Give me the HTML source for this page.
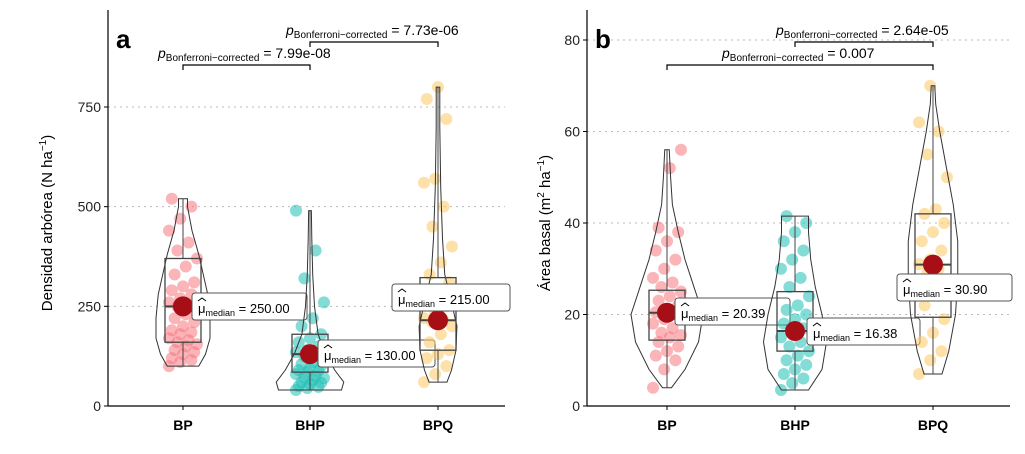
<!DOCTYPE html>
<html><head><meta charset="utf-8"><style>
body{margin:0;background:#fff;}
svg{display:block;font-family:"Liberation Sans",sans-serif;}
</style></head><body>
<svg id="c" width="1025" height="454" viewBox="0 0 1025 454"></svg>
<script>
const categories=["BP","BHP","BPQ"];
const colors=["#f8767d","#1fbfb4","#fdc863"];
// panel a
const aTicks=[0,250,500,750];
const aMedians=[250,130,215];
const aQ1=[160,85,140];
const aQ3=[370,180,322];
const aMin=[100,40,60];
const aMax=[520,490,800];
const aPtsBP=[100,110,115,120,130,135,140,150,155,160,165,170,180,185,190,200,210,220,230,240,250,255,260,270,280,290,300,310,330,350,370,390,410,440,470,500,520];
const aPtsBHP=[40,45,48,50,55,58,60,65,70,72,75,80,85,88,90,95,100,105,110,120,125,130,135,140,150,160,170,180,200,220,260,320,390,490];
const aPtsBPQ=[60,80,100,120,130,140,160,180,200,210,215,220,230,250,270,290,310,330,360,400,450,500,560,570,720,770,800];
const aVLevels=[[100,130,170,220,280,330,380,440,500,520],[40,60,90,130,180,250,330,420,490],[60,90,140,200,260,330,420,550,700,800]];
const aVWidths=[[0.35,0.5,0.6,0.6,0.55,0.45,0.35,0.2,0.1,0.1],[0.7,0.75,0.55,0.35,0.18,0.1,0.06,0.04,0.03],[0.2,0.3,0.4,0.42,0.3,0.15,0.1,0.06,0.04,0.04]];
// panel b
const bTicks=[0,20,40,60,80];
const bMedians=[20.39,16.38,30.90];
const bQ1=[14.4,12,19.4];
const bQ3=[25.3,25,42];
const bMin=[4,3.5,7];
const bMax=[56,41.5,70];
const bPtsBP=[4,8,10,11,12,13,14,15,15.5,16,17,18,19,20,20.5,21,22,23,24,25,26,27,28,30,32,34,36,38,39,52,56];
const bPtsBHP=[3.5,5,6,7,8,9,10,11,12,13,14,15,16,17,18,19,20,21,22,24,26,28,30,32,34,36,38,40,41.5];
const bPtsBPQ=[7,10,12,14,16,19,22,25,27,29,30,31,32,34,36,38,40,42,43,50,55,60,62,70];
const bVLevels=[[4,8,14,20,26,32,38,44,50,56],[3.5,8,14,20,26,32,38,41.5],[7,12,20,28,36,44,52,60,66,70]];
const bVWidths=[[0.1,0.4,0.7,0.8,0.6,0.4,0.25,0.12,0.08,0.05],[0.3,0.6,0.7,0.6,0.45,0.35,0.3,0.3],[0.2,0.35,0.5,0.55,0.55,0.45,0.3,0.15,0.06,0.04]];

const NS="http://www.w3.org/2000/svg";
const svg=document.getElementById("c");
function el(t,a,p){const e=document.createElementNS(NS,t);for(const k in a)e.setAttribute(k,a[k]);(p||svg).appendChild(e);return e;}

function panel(o){
  const g=el("g",{});
  
  
  const y=v=>o.y0-(v-o.min)/(o.max-o.min)*(o.y0-o.y1);
  o.ticks.forEach(t=>{
    const l=el("line",{x1:o.xl,x2:o.xr,y1:y(t),y2:y(t),stroke:"#bbb","stroke-dasharray":"2,4"},g);
    
    const tx=el("text",{x:o.xl-7,y:y(t)+5,"text-anchor":"end","font-size":14,fill:"#222"},g);
    tx.textContent=t;
    
    el("line",{x1:o.xl-4,x2:o.xl,y1:y(t),y2:y(t),stroke:"#000"},g);
  });
  const ax=el("line",{x1:o.xl,x2:o.xl,y1:o.y0,y2:10,stroke:"#000","stroke-width":1.2},g);
  
  const bx=el("line",{x1:o.xl,x2:o.xr,y1:o.y0,y2:o.y0,stroke:"#000","stroke-width":1.2},g);
  
  categories.forEach((c,i)=>{
    const cx=o.cx[i];
    el("line",{x1:cx,x2:cx,y1:o.y0,y2:o.y0+4,stroke:"#000"},g);
    const t=el("text",{x:cx,y:o.y0+24,"text-anchor":"middle","font-size":14,"font-weight":"bold"},g);
    t.textContent=c;
    o.pts[i].forEach((v,j)=>{
      const jit=((j*37)%11-5)*2.8;
      const p=el("circle",{cx:cx+jit,cy:y(v),r:6,fill:colors[i],"fill-opacity":0.55},g);
      
    });
    const lv=o.vl[i],wv=o.vw[i];let L=[],R=[];
    lv.forEach((v,k)=>{const w=wv[k]*o.vmax;L.push((cx-w)+","+y(v));R.unshift((cx+w)+","+y(v));});
    const vp=el("polygon",{points:L.concat(R).join(" "),fill:"none",stroke:"#333","stroke-width":1},g);
    
    el("line",{x1:cx,x2:cx,y1:y(o.mn[i]),y2:y(o.q1[i]),stroke:"#444"},g);
    el("line",{x1:cx,x2:cx,y1:y(o.q3[i]),y2:y(o.mx[i]),stroke:"#444"},g);
    const bw=18;
    const r=el("rect",{x:cx-bw,y:y(o.q3[i]),width:bw*2,height:y(o.q1[i])-y(o.q3[i]),fill:"none",stroke:"#444","stroke-width":1.3},g);
    
    el("line",{x1:cx-bw,x2:cx+bw,y1:y(o.med[i]),y2:y(o.med[i]),stroke:"#444","stroke-width":2},g);
    const m=el("circle",{cx:cx,cy:y(o.med[i]),r:10,fill:"#a50f15"},g);
    
    const lb=o.lab[i];
    const lr=el("rect",{x:lb[0],y:lb[1],width:lb[2],height:27,rx:3,fill:"#fff",stroke:"#555"},g);
    
    el("path",{d:`M${lb[0]+6},${lb[1]+8}L${lb[0]+10},${lb[1]+5}L${lb[0]+14},${lb[1]+8}`,fill:"none",stroke:"#000","stroke-width":1},g);
    const lt=el("text",{x:lb[0]+6,y:lb[1]+20,"font-size":13},g);
    lt.innerHTML='μ<tspan font-size="9" dy="3">median</tspan><tspan dy="-3"> = '+o.med[i].toFixed(2)+'</tspan>';
    
  });
  o.br.forEach(b=>{
    const [i1,i2,yy,txt,lx]=b;
    const p=el("path",{d:`M${o.cx[i1]},${yy+5}V${yy}H${o.cx[i2]}V${yy+5}`,fill:"none",stroke:"#000","stroke-width":1.2},g);
    
    const t=el("text",{x:lx,y:yy-7,"font-size":14},g);
    t.innerHTML='<tspan font-style="italic">p</tspan><tspan font-size="10" dy="3">Bonferroni−corrected</tspan><tspan dy="-3"> = '+txt+'</tspan>';
    
  });
  const yt=el("text",{transform:`translate(${o.tx},${(o.y0+40)/2}) rotate(-90)`,"text-anchor":"middle","font-size":15},g);
  yt.innerHTML=o.title;
  
  const pl=el("text",{x:o.xl+8,y:48,"font-size":26,"font-weight":"bold"},g);
  pl.textContent=o.letter;
}
panel({name:"panel-a",xl:108,xr:505,y0:406,y1:107,min:0,max:750,ticks:aTicks,cx:[183,310,438],
 pts:[aPtsBP,aPtsBHP,aPtsBPQ],vl:aVLevels,vw:aVWidths,vmax:45,mn:aMin,mx:aMax,q1:aQ1,q3:aQ3,med:aMedians,
 lab:[[192,293,115],[318,340,117],[392,284,118]],
 br:[[0,1,65,"7.99e-08",158],[1,2,42,"7.73e-06",286]],tx:52,letter:"a",
 title:'Densidad arbórea (N ha<tspan font-size="10" dy="-6">−1</tspan><tspan dy="6">)</tspan>'});
panel({name:"panel-b",xl:587,xr:1010,y0:406,y1:40,min:0,max:80,ticks:bTicks,cx:[667,795,933],
 pts:[bPtsBP,bPtsBHP,bPtsBPQ],vl:bVLevels,vw:bVWidths,vmax:45,mn:bMin,mx:bMax,q1:bQ1,q3:bQ3,med:bMedians,
 lab:[[675,298,115],[807,318,113],[897,274,115]],
 br:[[0,2,65,"0.007",722],[1,2,42,"2.64e-05",776]],tx:550,letter:"b",
 title:'Área basal (m<tspan font-size="10" dy="-6">2</tspan><tspan dy="6"> ha</tspan><tspan font-size="10" dy="-6">−1</tspan><tspan dy="6">)</tspan>'});
</script>
</body></html>
